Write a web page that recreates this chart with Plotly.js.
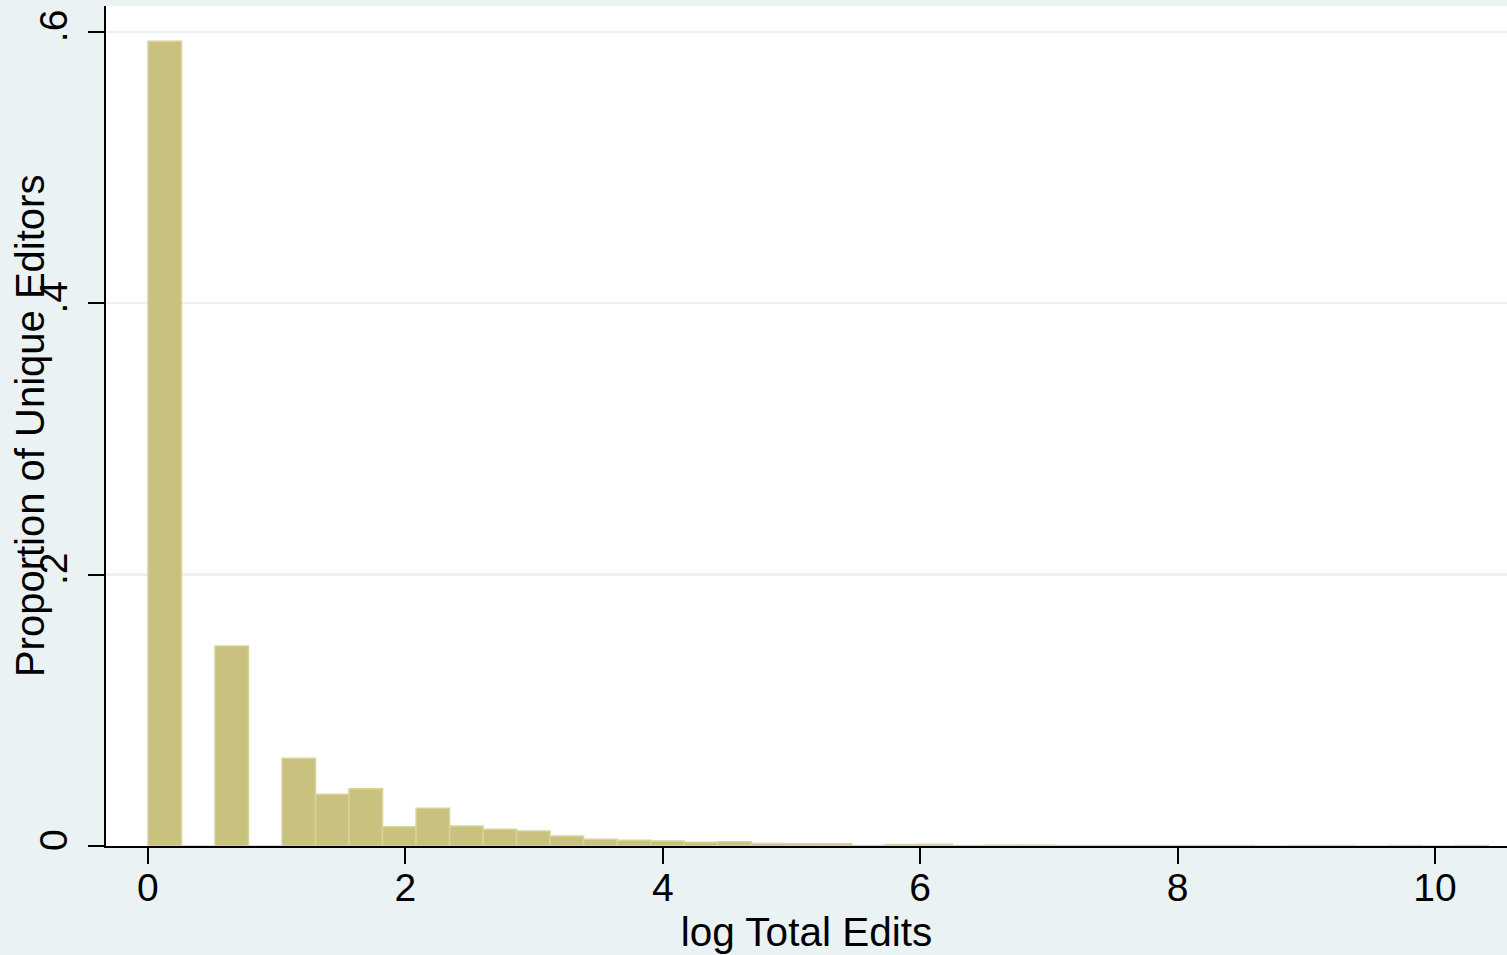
<!DOCTYPE html>
<html>
<head>
<meta charset="utf-8">
<script src="https://cdn.plot.ly/plotly-3.0.1.min.js"></script>
<style>html,body{margin:0;padding:0;background:#EAF2F3;}#chart{width:1507px;height:955px;}</style>
</head>
<body>
<div id="chart"></div>
<script>
// Histogram of log total edits: 40 bins starting at 0
const binWidth = 0.2604;
const proportions = [
  0.593, 0, 0.1474, 0, 0.0646, 0.0381, 0.0422, 0.0142, 0.0278, 0.0147,
  0.0123, 0.0111, 0.0074, 0.0049, 0.0042, 0.0037, 0.0027, 0.0032, 0.0019, 0.0017,
  0.0016, 0.0003, 0.0011, 0.0012, 0.0003, 0.0005, 0.0005, 0.0003, 0.0004, 0.0004,
  0.0004, 0.0004, 0.0003, 0, 0.0004, 0.0003, 0, 0.0003, 0, 0.0003
];
const binCenters = proportions.map((_, i) => (i + 0.5) * binWidth);
const yTickVals = [0, 0.2, 0.4, 0.6];
const yTickText = ["0", ".2", ".4", ".6"];
const xTickVals = [0, 2, 4, 6, 8, 10];
const xTickText = ["0", "2", "4", "6", "8", "10"];
const xTitle = "log Total Edits";
const yTitle = "Proportion of Unique Editors";

const font = "Liberation Sans, Arial, sans-serif";
const trace = {
  type: "bar",
  x: binCenters,
  y: proportions,
  width: binWidth,
  marker: {color: "rgb(201,194,127)", line: {color: "rgb(216,211,155)", width: 1.5}},
  hoverinfo: "x+y"
};
const layout = {
  width: 1507, height: 955,
  paper_bgcolor: "#EAF2F3",
  plot_bgcolor: "#FFFFFF",
  margin: {l: 106, r: 0, t: 6, b: 109},
  showlegend: false,
  bargap: 0,
  xaxis: {
    range: [-0.326, 10.56],
    tickvals: xTickVals, ticktext: xTickText,
    ticks: "outside", ticklen: 16, tickwidth: 2, tickcolor: "#000",
    ticklabelstandoff: -10,
    showgrid: false, zeroline: false,
    showline: true, linecolor: "#000", linewidth: 2,
    tickfont: {family: font, size: 39, color: "#000"},
    title: {text: xTitle, font: {family: font, size: 40.5, color: "#000"}, standoff: 4},
    automargin: false
  },
  yaxis: {
    range: [0, 0.619],
    tickvals: yTickVals, ticktext: yTickText,
    tickangle: -90,
    ticks: "outside", ticklen: 16, tickwidth: 2, tickcolor: "#000",
    ticklabelstandoff: 5,
    showgrid: true, gridcolor: "#EAF2F3", gridwidth: 2.5,
    zeroline: false,
    showline: true, linecolor: "#000", linewidth: 2,
    tickfont: {family: font, size: 39, color: "#000"},
    automargin: false
  },
  annotations: [{
    text: yTitle, textangle: -90,
    xref: "paper", yref: "paper", x: -0.0542, y: 0.5,
    xanchor: "center", yanchor: "middle", showarrow: false,
    font: {family: font, size: 40, color: "#000"}
  }]
};
Plotly.newPlot("chart", [trace], layout, {displayModeBar: false, staticPlot: true});
</script>
</body>
</html>
